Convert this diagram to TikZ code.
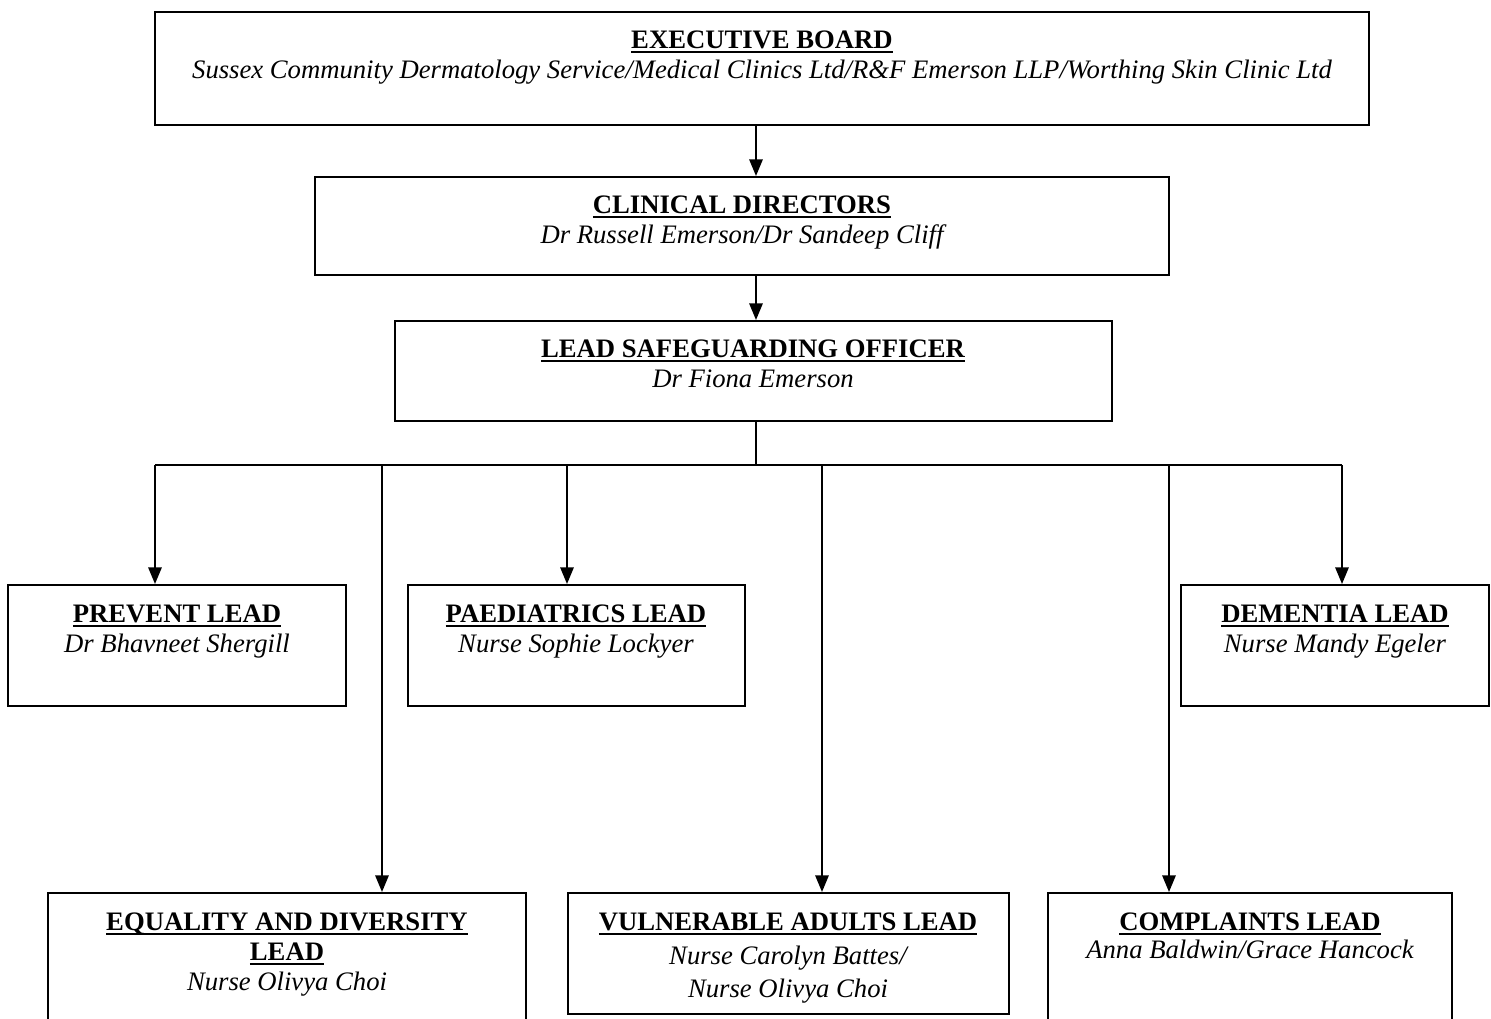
\documentclass[tikz,border=0pt]{standalone}
\usepackage{fontspec}
\setmainfont{Liberation Serif}
\newcommand{\undl}[1]{\setbox0\hbox{#1}\rlap{\rule[-2.2pt]{\wd0}{0.9pt}}\box0}
\usepackage{tikz}
\usetikzlibrary{arrows.meta,fit}
\tikzset{
  orgbox/.style={draw,line width=0.9pt,inner sep=0pt},
  ttl/.style={anchor=base,inner sep=0pt,font=\fontsize{12}{14}\selectfont\bfseries},
  sub/.style={anchor=base,inner sep=0pt,font=\fontsize{12}{14}\selectfont\itshape},
  arr/.style={line width=0.9pt,-{Triangle[width=6pt,length=7.5pt]}},
  bus/.style={line width=0.9pt}
}
\begin{document}
\begin{tikzpicture}[x=0.45pt,y=-0.45pt]
    \useasboundingbox (0,0) rectangle (1491,1018);
    % top chain
    \node[orgbox,fit={(155,12) (1369,125)}] (exec) {};
    \node[ttl] (execT) at (762,48) {\undl{EXECUTIVE BOARD}};
    \node[sub] (execS) at (762,78) {Sussex Community Dermatology Service/Medical Clinics Ltd/R\&F Emerson LLP/Worthing Skin Clinic Ltd};
    \node[orgbox,fit={(315,177) (1169,275)}] (clin) {};
    \node[ttl] (clinT) at (742,213) {\undl{CLINICAL DIRECTORS}};
    \node[sub] (clinS) at (742,243) {Dr Russell Emerson/Dr Sandeep Cliff};
    \node[orgbox,fit={(395,321) (1112,421)}] (lso) {};
    \node[ttl] (lsoT) at (753,357) {\undl{LEAD SAFEGUARDING OFFICER}};
    \node[sub] (lsoS) at (753,387) {Dr Fiona Emerson};
    % middle row
    \node[orgbox,fit={(8,585) (346,706)}] (prev) {};
    \node[ttl] (prevT) at (177,622) {\undl{PREVENT LEAD}};
    \node[sub] (prevS) at (177,652) {Dr Bhavneet Shergill};
    \node[orgbox,fit={(408,585) (745,706)}] (paed) {};
    \node[ttl] (paedT) at (576,622) {\undl{PAEDIATRICS LEAD}};
    \node[sub] (paedS) at (576,652) {Nurse Sophie Lockyer};
    \node[orgbox,fit={(1181,585) (1489,706)}] (dem) {};
    \node[ttl] (demT) at (1335,622) {\undl{DEMENTIA LEAD}};
    \node[sub] (demS) at (1335,652) {Nurse Mandy Egeler};
    % bottom row
    \node[orgbox,fit={(48,893) (526,1030)}] (equ) {};
    \node[ttl] (equT) at (287,930) {\undl{EQUALITY AND DIVERSITY}};
    \node[ttl] (equT2) at (287,960) {\undl{LEAD}};
    \node[sub] (equS) at (287,990) {Nurse Olivya Choi};
    \node[orgbox,fit={(568,893) (1009,1014)}] (vul) {};
    \node[ttl] (vulT) at (788,930) {\undl{VULNERABLE ADULTS LEAD}};
    \node[sub] (vulS) at (788,964) {Nurse Carolyn Battes/};
    \node[sub] (vulS2) at (788,997) {Nurse Olivya Choi};
    \node[orgbox,fit={(1048,893) (1452,1030)}] (comp) {};
    \node[ttl] (compT) at (1250,930) {\undl{COMPLAINTS LEAD}};
    \node[sub] (compS) at (1250,958) {Anna Baldwin/Grace Hancock};
    % connectors
    \coordinate (spine) at (756,465);
    \coordinate (b1) at (155,465);
    \coordinate (b2) at (382,465);
    \coordinate (b3) at (567,465);
    \coordinate (b4) at (822,465);
    \coordinate (b5) at (1169,465);
    \coordinate (b6) at (1342,465);
    \draw[arr] (exec.south -| spine) -- (clin.north -| spine);
    \draw[arr] (clin.south -| spine) -- (lso.north -| spine);
    \draw[bus] (lso.south -| spine) -- (spine);
    \draw[bus] (b1) -- (b6);
    \draw[arr] (b1) -- (b1 |- prev.north);
    \draw[arr] (b2) -- (b2 |- equ.north);
    \draw[arr] (b3) -- (b3 |- paed.north);
    \draw[arr] (b4) -- (b4 |- vul.north);
    \draw[arr] (b5) -- (b5 |- comp.north);
    \draw[arr] (b6) -- (b6 |- dem.north);
\end{tikzpicture}
\end{document}
